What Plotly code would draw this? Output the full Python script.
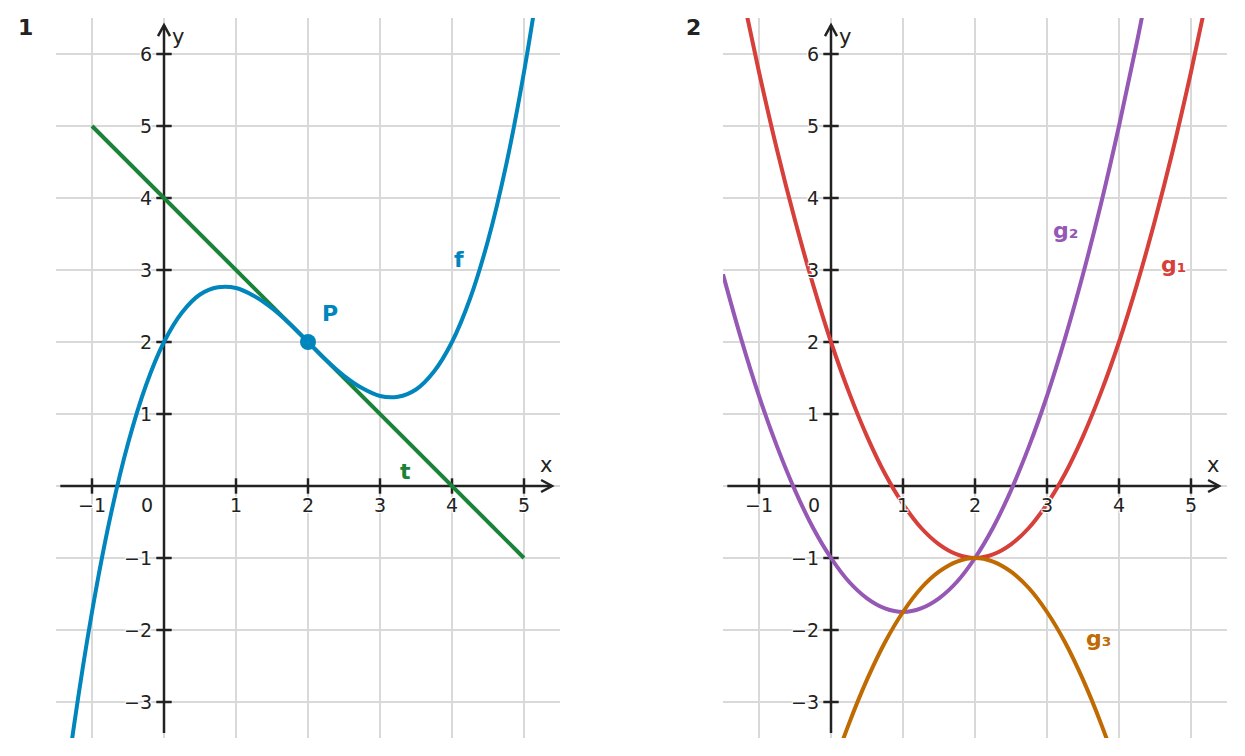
import plotly.graph_objects as go

# ---- data ----
# panel 1: cubic f, tangent t at P
f_x = [-1.5, -1.25, -1.0, -0.75, -0.5, -0.25, 0.0, 0.25, 0.5, 0.75, 1.0, 1.25, 1.5, 1.75,
       2.0, 2.25, 2.5, 2.75, 3.0, 3.25, 3.5, 3.75, 4.0, 4.25, 4.5, 4.75, 5.0, 5.25, 5.5]
f_y = [-5.22, -3.33, -1.75, -0.45, 0.59, 1.40, 2.00, 2.41, 2.66, 2.76, 2.75, 2.64, 2.47, 2.25,
       2.00, 1.75, 1.53, 1.36, 1.25, 1.24, 1.34, 1.59, 2.00, 2.60, 3.41, 4.45, 5.75, 7.33, 9.22]
t_x = [-1.0, 5.0]
t_y = [5.0, -1.0]
p_x = [2.0]
p_y = [2.0]

# panel 2: parabolas g1, g2, g3
g1_x = [-1.5, -1.25, -1.0, -0.75, -0.5, -0.25, 0.0, 0.25, 0.5, 0.75, 1.0, 1.25, 1.5, 1.75,
        2.0, 2.25, 2.5, 2.75, 3.0, 3.25, 3.5, 3.75, 4.0, 4.25, 4.5, 4.75, 5.0, 5.25, 5.5]
g1_y = [8.19, 6.92, 5.75, 4.67, 3.69, 2.80, 2.00, 1.30, 0.69, 0.17, -0.25, -0.58, -0.81, -0.95,
        -1.00, -0.95, -0.81, -0.58, -0.25, 0.17, 0.69, 1.30, 2.00, 2.80, 3.69, 4.67, 5.75, 6.92, 8.19]
g2_x = [-1.5, -1.25, -1.0, -0.75, -0.5, -0.25, 0.0, 0.25, 0.5, 0.75, 1.0, 1.25, 1.5,
        1.75, 2.0, 2.25, 2.5, 2.75, 3.0, 3.25, 3.5, 3.75, 4.0, 4.25, 4.5]
g2_y = [2.94, 2.05, 1.25, 0.55, -0.06, -0.58, -1.00, -1.33, -1.56, -1.70, -1.75, -1.70, -1.56,
        -1.33, -1.00, -0.58, -0.06, 0.55, 1.25, 2.05, 2.94, 3.92, 5.00, 6.17, 7.44]
g3_x = [-0.25, 0.0, 0.25, 0.5, 0.75, 1.0, 1.25, 1.5, 1.75, 2.0, 2.25, 2.5, 2.75, 3.0, 3.25,
        3.5, 3.75, 4.0, 4.25]
g3_y = [-4.80, -4.00, -3.30, -2.69, -2.17, -1.75, -1.42, -1.19, -1.05, -1.00, -1.05, -1.19,
        -1.42, -1.75, -2.17, -2.69, -3.30, -4.00, -4.80]

x_ticks = [-1, 1, 2, 3, 4, 5]
y_ticks = [-3, -2, -1, 1, 2, 3, 4, 5, 6]

BLUE = "#0085BD"
GREEN = "#1A8338"
RED = "#D63F3A"
PURPLE = "#9558B5"
ORANGE = "#C06A02"
INK = "#222222"
FONT = "DejaVu Sans"
HALO = "-1px -1px 0 #fff, 1px -1px 0 #fff, -1px 1px 0 #fff, 1px 1px 0 #fff, 0 0 3px #fff"

X_RANGE = [-1.5, 5.5]
Y_RANGE = [-3.5, 6.5]
PX = 72.0  # pixels per unit (both axes)
W, H = 1245, 756
OFF = 8  # page body margin of the html


def lab(s):
    return s.replace("-", "\u2212")


fig = go.Figure()
shapes = []
annotations = []

for i, (xa, ya) in enumerate([("x", "y"), ("x2", "y2")]):
    # axis lines with open arrow heads
    shapes.append(dict(type="line", xref=xa, yref=ya, x0=-1.44, y0=0, x1=5.39, y1=0,
                       line=dict(color=INK, width=2.5), layer="between"))
    shapes.append(dict(type="line", xref=xa, yref=ya, x0=0, y0=-3.43, x1=0, y1=6.40,
                       line=dict(color=INK, width=2.5), layer="between"))
    ax_, ay_ = 11 / PX, 6 / PX
    shapes.append(dict(type="path", xref=xa, yref=ya,
                       path=f"M {5.39 - ax_},{ay_} L 5.39,0 L {5.39 - ax_},{-ay_}",
                       line=dict(color=INK, width=2.5), layer="between"))
    shapes.append(dict(type="path", xref=xa, yref=ya,
                       path=f"M {-ay_},{6.40 - ax_} L 0,6.40 L {ay_},{6.40 - ax_}",
                       line=dict(color=INK, width=2.5), layer="between"))

    # tick marks
    fig.add_trace(go.Scatter(x=x_ticks, y=[0] * len(x_ticks), mode="markers",
                             marker=dict(symbol="line-ns", size=11, line=dict(color=INK, width=2.5)),
                             xaxis=xa, yaxis=ya, hoverinfo="skip", showlegend=False))
    fig.add_trace(go.Scatter(x=[0] * len(y_ticks), y=y_ticks, mode="markers",
                             marker=dict(symbol="line-ew", size=11, line=dict(color=INK, width=2.5)),
                             xaxis=xa, yaxis=ya, hoverinfo="skip", showlegend=False))

    # tick labels
    tfont = dict(family=FONT, size=19, color=INK, shadow=HALO)
    for k in x_ticks:
        annotations.append(dict(x=k, y=0, xref=xa, yref=ya, text=lab(str(k)), showarrow=False,
                                xanchor="center", yanchor="middle", yshift=-19, font=tfont))
    annotations.append(dict(x=0, y=0, xref=xa, yref=ya, text="0", showarrow=False,
                            xanchor="center", yanchor="middle", xshift=-17, yshift=-19, font=tfont))
    for k in y_ticks:
        annotations.append(dict(x=0, y=k, xref=xa, yref=ya, text=lab(str(k)), showarrow=False,
                                xanchor="right", yanchor="middle", xshift=-10, font=tfont))
    annotations.append(dict(x=5.3, y=0, xref=xa, yref=ya, text="x", showarrow=False,
                            xanchor="center", yanchor="middle", yshift=21,
                            font=dict(family=FONT, size=21, color=INK)))
    annotations.append(dict(x=0, y=6.24, xref=xa, yref=ya, text="y", showarrow=False,
                            xanchor="center", yanchor="middle", xshift=14,
                            font=dict(family=FONT, size=21, color=INK)))

line_w = 4

# panel 1
fig.add_trace(go.Scatter(x=t_x, y=t_y, mode="lines", line=dict(color=GREEN, width=line_w),
                         xaxis="x", yaxis="y", showlegend=False))
fig.add_trace(go.Scatter(x=f_x, y=f_y, mode="lines", line=dict(color=BLUE, width=line_w, shape="spline"),
                         xaxis="x", yaxis="y", showlegend=False))
fig.add_trace(go.Scatter(x=p_x, y=p_y, mode="markers", marker=dict(color=BLUE, size=16),
                         xaxis="x", yaxis="y", showlegend=False))

# panel 2
fig.add_trace(go.Scatter(x=g1_x, y=g1_y, mode="lines", line=dict(color=RED, width=line_w, shape="spline"),
                         xaxis="x2", yaxis="y2", showlegend=False))
fig.add_trace(go.Scatter(x=g2_x, y=g2_y, mode="lines", line=dict(color=PURPLE, width=line_w, shape="spline"),
                         xaxis="x2", yaxis="y2", showlegend=False))
fig.add_trace(go.Scatter(x=g3_x, y=g3_y, mode="lines", line=dict(color=ORANGE, width=line_w, shape="spline"),
                         xaxis="x2", yaxis="y2", showlegend=False))

# curve names
curve_labels = [
    ("x", "y", 4.10, 3.15, "f", BLUE),
    ("x", "y", 2.31, 2.40, "P", BLUE),
    ("x", "y", 3.35, 0.20, "t", GREEN),
    ("x2", "y2", 3.25, 3.55, "g\u2082", PURPLE),
    ("x2", "y2", 4.75, 3.08, "g\u2081", RED),
    ("x2", "y2", 3.71, -2.12, "g\u2083", ORANGE),
]
for xa, ya, x, y, s, c in curve_labels:
    annotations.append(dict(x=x, y=y, xref=xa, yref=ya, text=f"<b>{s}</b>", showarrow=False,
                            xanchor="center", yanchor="middle",
                            font=dict(family=FONT, size=22, color=c, shadow=HALO)))

# panel numbers
for px_x, s in [(25, "1"), (693, "2")]:
    annotations.append(dict(x=(px_x - OFF) / W, y=1 - 10 / 720, xref="paper", yref="paper",
                            text=f"<b>{s}</b>", showarrow=False, xanchor="center", yanchor="middle",
                            font=dict(family=FONT, size=22, color=INK)))

axis_common = dict(showgrid=True, gridcolor="#d9d9d9", gridwidth=2, dtick=1, zeroline=False,
                   showticklabels=False, ticks="", showline=False, fixedrange=True)

fig.update_layout(
    width=W, height=H,
    margin=dict(l=0, r=0, t=18 - OFF, b=18 + OFF),
    paper_bgcolor="white", plot_bgcolor="white",
    showlegend=False,
    xaxis=dict(domain=[(56 - OFF) / W, (560 - OFF) / W], range=X_RANGE, tick0=0, **axis_common),
    yaxis=dict(domain=[0, 1], range=Y_RANGE, tick0=0, **axis_common),
    xaxis2=dict(domain=[(723 - OFF) / W, (1227 - OFF) / W], range=X_RANGE, tick0=0, anchor="y2",
                **axis_common),
    yaxis2=dict(domain=[0, 1], range=Y_RANGE, tick0=0, anchor="x2", **axis_common),
    shapes=shapes,
    annotations=annotations,
)

fig.write_html("out.html")
